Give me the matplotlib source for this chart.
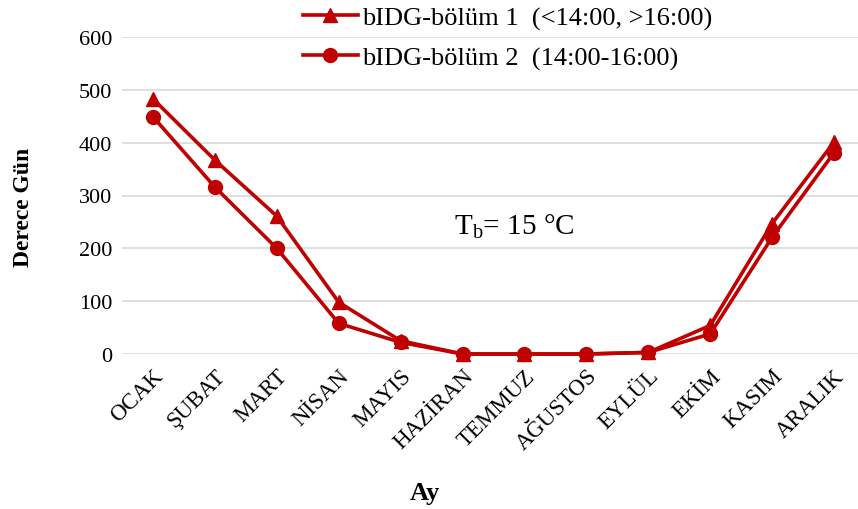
import matplotlib
matplotlib.use("Agg")
import matplotlib.pyplot as plt

plt.rcParams['font.family'] = ['Liberation Serif', 'DejaVu Serif']
plt.rcParams['mathtext.fontset'] = 'custom'
plt.rcParams['mathtext.rm'] = 'Liberation Serif'
plt.rcParams['mathtext.it'] = 'Liberation Serif'

months = ['OCAK', 'ŞUBAT', 'MART', 'NİSAN', 'MAYIS', 'HAZİRAN', 'TEMMUZ',
          'AĞUSTOS', 'EYLÜL', 'EKİM', 'KASIM', 'ARALIK']
bolum1 = [483, 367, 261, 98, 25, 0, 0, 0, 3, 54, 247, 401]
bolum2 = [449, 316, 200, 58, 22, 0, 0, 0, 3, 38, 221, 381]
label1 = 'bIDG-bölüm 1  (<14:00, >16:00)'
label2 = 'bIDG-bölüm 2  (14:00-16:00)'
yticks = [0, 100, 200, 300, 400, 500, 600]

red = '#C00000'

fig = plt.figure(figsize=(8.58, 5.10), dpi=100)
ax = fig.add_axes([122 / 858, 1 - 355 / 510, (865 - 122) / 858, (355 - 38) / 510])

x = list(range(len(months)))
ax.plot(x, bolum1, color=red, lw=2.6, marker='^', ms=10, label=label1, clip_on=False)
ax.plot(x, bolum2, color=red, lw=2.6, marker='o', ms=10, label=label2, clip_on=False)

ax.set_xlim(-0.5, len(months) - 0.5)
ax.set_ylim(0, 600)
ax.set_yticks(yticks)
ax.set_xticks(x)
ax.set_xticklabels(months, rotation=45, ha='right', rotation_mode='anchor', fontsize=16.5)
ax.tick_params(axis='y', labelsize=16, length=0, pad=7)
ax.tick_params(axis='x', length=0, pad=8)
ax.grid(axis='y', color='#d9d9d9', lw=1.2)
ax.set_axisbelow(True)
for s in ax.spines.values():
    s.set_visible(False)

ax.set_ylabel('Derece Gün', fontsize=17, fontweight='bold')
ax.set_xlabel('Ay', fontsize=19, fontweight='bold')
# labels in the original sit a bit off-centre
ax.yaxis.set_label_coords(-0.118, 0.467)
ax.xaxis.set_label_coords(0.408, -0.4)

ax.text(4.87, 242, 'T$_\\mathrm{b}$= 15 °C', fontsize=21, va='center', ha='left')

leg = ax.legend(loc='upper left', bbox_to_anchor=(300 / 858, 1 - 4 / 510), bbox_transform=fig.transFigure,
                frameon=False, fontsize=19, handlelength=2.1, handletextpad=0.15,
                labelspacing=0.63, borderaxespad=0.0, borderpad=0.1)

fig.savefig('out.png', dpi=100)
